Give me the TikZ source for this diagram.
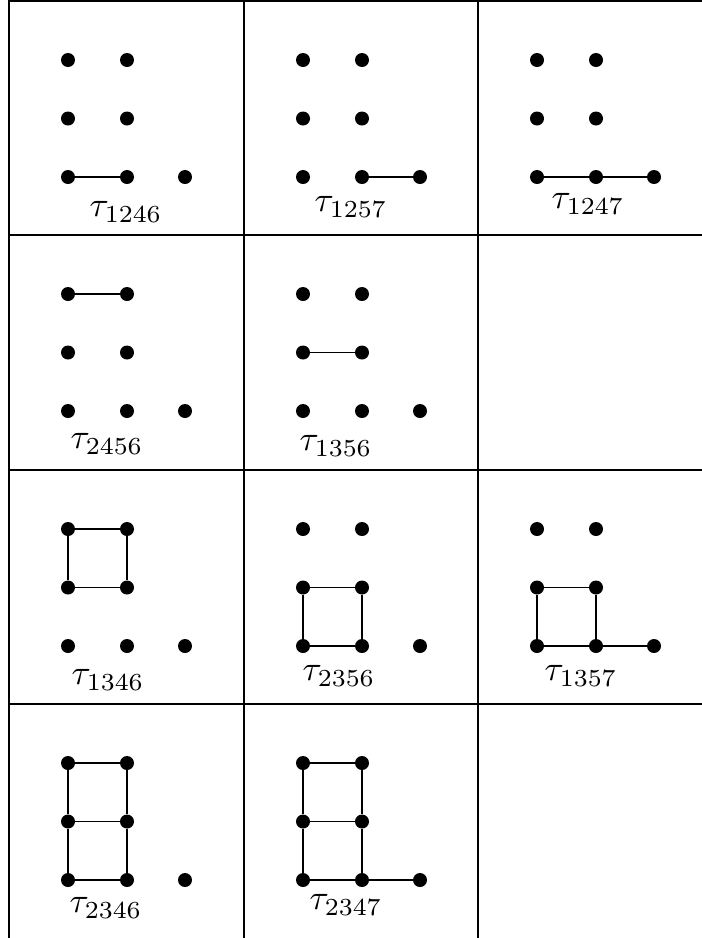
\documentclass[tikz,border=0pt]{standalone}
\usepackage{tikz}
\tikzset{
  dotnode/.style={circle,fill=black,draw=none,inner sep=0pt,minimum size=14pt},
  edge/.style={line width=1.2pt,draw=black},
  gridline/.style={line width=1.6pt,draw=black},
  lab/.style={inner sep=0pt,scale=3.5}
}
\newcommand{\mkcell}[3]{%
  \begin{scope}[shift={(#2,#3)}]
    \foreach \n/\x/\y in {a/59/59,b/118/59,c/59/117.5,d/118/117.5,e/59/176,f/118/176,g/176/176}{
      \node[dotnode] (#1-\n) at (\x,\y) {};
    }
  \end{scope}}
\begin{document}
\begin{tikzpicture}[x=1pt,y=-1pt]
\useasboundingbox (0,0) rectangle (702,938);
% grid
\draw[gridline] (9,0) -- (9,938);
\draw[gridline] (244,0) -- (244,938);
\draw[gridline] (478,0) -- (478,938);
\draw[gridline] (9,1) -- (702,1);
\draw[gridline] (9,235) -- (702,235);
\draw[gridline] (9,470) -- (702,470);
\draw[gridline] (9,704) -- (702,704);
% cells
\mkcell{A}{9}{1}
\mkcell{B}{244}{1}
\mkcell{C}{478}{1}
\mkcell{D}{9}{235}
\mkcell{E}{244}{235}
\mkcell{F}{9}{470}
\mkcell{G}{244}{470}
\mkcell{H}{478}{470}
\mkcell{I}{9}{704}
\mkcell{J}{244}{704}
% edges
\draw[edge] (A-e) -- (A-f);
\draw[edge] (B-f) -- (B-g);
\draw[edge] (C-e) -- (C-f) -- (C-g);
\draw[edge] (D-a) -- (D-b);
\draw[edge] (E-c) -- (E-d);
\draw[edge] (F-a) -- (F-b) -- (F-d) -- (F-c) -- (F-a);
\draw[edge] (G-c) -- (G-d) -- (G-f) -- (G-e) -- (G-c);
\draw[edge] (H-c) -- (H-d) -- (H-f) -- (H-e) -- (H-c);
\draw[edge] (H-f) -- (H-g);
\draw[edge] (I-a) -- (I-b) -- (I-d) -- (I-f) -- (I-e) -- (I-c) -- (I-a);
\draw[edge] (I-c) -- (I-d);
\draw[edge] (J-a) -- (J-b) -- (J-d) -- (J-f) -- (J-e) -- (J-c) -- (J-a);
\draw[edge] (J-c) -- (J-d);
\draw[edge] (J-f) -- (J-g);
% labels
\node[lab] (A-l) at (126,212) {$\tau_{1246}$};
\node[lab] (B-l) at (351,207) {$\tau_{1257}$};
\node[lab] (C-l) at (588,204) {$\tau_{1247}$};
\node[lab] (D-l) at (107,444) {$\tau_{2456}$};
\node[lab] (E-l) at (336,446) {$\tau_{1356}$};
\node[lab] (F-l) at (108,680) {$\tau_{1346}$};
\node[lab] (G-l) at (339,676) {$\tau_{2356}$};
\node[lab] (H-l) at (581,676) {$\tau_{1357}$};
\node[lab] (I-l) at (106,908) {$\tau_{2346}$};
\node[lab] (J-l) at (346,905) {$\tau_{2347}$};
\end{tikzpicture}
\end{document}
